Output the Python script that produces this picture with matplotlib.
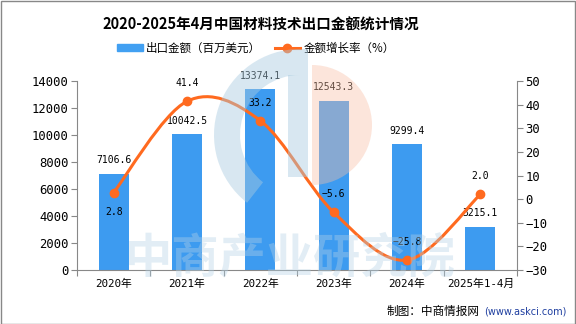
import matplotlib.pyplot as plt
import numpy as np
from matplotlib.path import Path
from matplotlib.patches import PathPatch, Wedge, Rectangle, Patch
from matplotlib.lines import Line2D

plt.rcParams["font.family"] = ["Noto Sans CJK SC", "DejaVu Sans"]
plt.rcParams["axes.unicode_minus"] = True

categories = ["2020年", "2021年", "2022年", "2023年", "2024年", "2025年1-4月"]
export_value = [7106.6, 10042.5, 13374.1, 12543.3, 9299.4, 3215.1]
growth_rate = [2.8, 41.4, 33.2, -5.6, -25.8, 2.0]

bar_color = "#3D9BF0"
line_color = "#FF6A1F"
num_font = ["DejaVu Sans Mono", "Noto Sans CJK SC"]

fig = plt.figure(figsize=(5.76, 3.24), dpi=100)
ax = fig.add_axes([77 / 576, 1 - 270 / 324, 440 / 576, 189 / 324])
ax2 = ax.twinx()

x = np.arange(len(categories))
ax.bar(x, export_value, width=0.41, color=bar_color, zorder=2)
ax.set_xlim(-0.5, len(categories) - 0.5)
ax.set_ylim(0, 14000)
ax.set_yticks(range(0, 14001, 2000))
ax2.set_ylim(-30, 50)
ax2.set_yticks(range(-30, 51, 10))

for xi, v in zip(x, export_value):
    ax.text(xi, v + 650, f"{v:.1f}", ha="center", va="bottom", fontsize=7,
            family=num_font, zorder=5)


# smooth curve through the growth points (Catmull-Rom as cubic Bezier)
def smooth_path(xs, ys):
    pts = np.column_stack([xs, ys]).astype(float)
    verts = [pts[0]]
    codes = [Path.MOVETO]
    n = len(pts)
    for i in range(n - 1):
        p0 = pts[i - 1] if i > 0 else pts[i]
        p1, p2 = pts[i], pts[i + 1]
        p3 = pts[i + 2] if i + 2 < n else pts[i + 1]
        verts += [p1 + (p2 - p0) / 6, p2 - (p3 - p1) / 6, p2]
        codes += [Path.CURVE4] * 3
    return Path(verts, codes)


ax2.add_patch(PathPatch(smooth_path(x, growth_rate), fill=False,
                        edgecolor=line_color, lw=2.2, zorder=3))
ax2.plot(x, growth_rate, "o", color=line_color, ms=6, zorder=4)
for i, (xi, g) in enumerate(zip(x, growth_rate)):
    label = f"{g:.1f}".replace("-", "\u2212")
    if i == 0:
        ax2.text(xi, g - 6, label, ha="center", va="top", fontsize=7,
                 family=num_font, zorder=5)
    else:
        ax2.text(xi, g + 5.5, label, ha="center", va="bottom", fontsize=7,
                 family=num_font, zorder=5)

for a in (ax, ax2):
    a.tick_params(color="#888888", length=4, width=0.8, pad=2)
    for s in a.spines.values():
        s.set_visible(False)
for s in (ax.spines["left"], ax.spines["bottom"], ax2.spines["right"]):
    s.set_visible(True)
    s.set_color("#888888")
    s.set_linewidth(0.8)
for a in (ax, ax2):
    for lab in a.get_yticklabels():
        lab.set_family(num_font)
        lab.set_fontsize(8.8)

ax.set_xticks(np.arange(-0.5, len(categories), 1))
ax.set_xticklabels([])
ax.set_xticks(x, minor=True)
ax.set_xticklabels(categories, minor=True, fontsize=7.8, family=num_font)
ax.tick_params(axis="x", which="minor", length=0, pad=6)
ax.tick_params(axis="x", which="major", length=4)

# watermark (y axis points down here, so wedge angles are mirrored)
wm = fig.add_axes([0, 0, 1, 1], zorder=10)
wm.set_xlim(0, 576)
wm.set_ylim(324, 0)
wm.axis("off")
blue_wm = "#A9CBE0"
wm.add_patch(Wedge((300, 135), 86, 128, 270, width=26, color=blue_wm, alpha=0.45, lw=0))
wm.add_patch(Rectangle((288, 75), 20, 102, color=blue_wm, alpha=0.45, lw=0))
wm.add_patch(Rectangle((300, 49), 8, 26, color=blue_wm, alpha=0.45, lw=0))
wm.add_patch(Wedge((312, 125), 60, -90, 90, color="#F8BFA5", alpha=0.4, lw=0))
wm.text(290, 258, "中商产业研究院", fontsize=34, fontweight="bold", color="#B4D2E6",
        alpha=0.38, ha="center", va="center")

fig.text(261 / 576, 1 - 25 / 324, "2020-2025年4月中国材料技术出口金额统计情况",
         ha="center", va="center", fontsize=10.5, fontweight="bold")
handles = [Patch(color="#42A0F2"),
           Line2D([0], [0], color=line_color, lw=2.2, marker="o", ms=6)]
fig.legend(handles, ["出口金额（百万美元）", "金额增长率（%）"], loc="center",
           bbox_to_anchor=(256 / 576, 1 - 48 / 324), ncol=2, frameon=False,
           fontsize=8.3, handlelength=2.2, handleheight=0.6, columnspacing=1.2,
           handletextpad=0.3)
fig.text(387 / 576, 1 - 311 / 324, "制图：中商情报网", ha="left", va="center",
         fontsize=8.4)
fig.text(484 / 576, 1 - 311 / 324, "(www.askci.com)", ha="left", va="center",
         fontsize=7, family="DejaVu Sans", color="#1F3FA0")

fig.add_artist(Rectangle((0.5 / 576, 0.5 / 324), 1 - 1.5 / 576, 1 - 1.5 / 324,
                         transform=fig.transFigure, fill=False, edgecolor="#888888",
                         lw=1))

fig.savefig("out.png", dpi=100)
